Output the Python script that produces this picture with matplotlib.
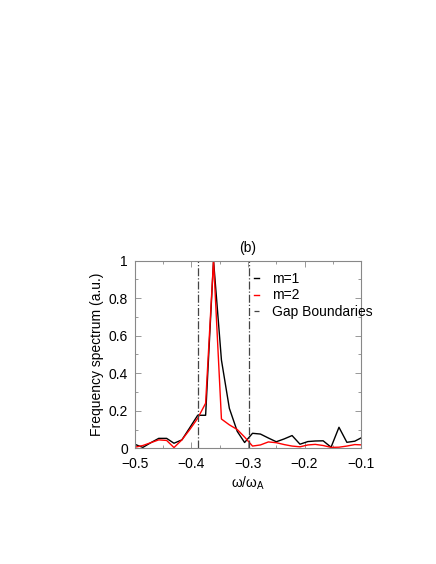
import matplotlib
matplotlib.use('Agg')
import matplotlib.pyplot as plt
from matplotlib.ticker import MultipleLocator, FuncFormatter

plt.rcParams['font.family'] = ['Liberation Sans', 'DejaVu Sans']
plt.rcParams['mathtext.fontset'] = 'custom'
plt.rcParams['mathtext.rm'] = 'Liberation Sans'

# frequency grid (omega / omega_A)
freq = [-0.5, -0.486, -0.472, -0.458, -0.444, -0.431, -0.417, -0.403, -0.389, -0.375,
        -0.361, -0.347, -0.333, -0.319, -0.306, -0.292, -0.278, -0.264, -0.250, -0.236,
        -0.222, -0.208, -0.194, -0.181, -0.167, -0.153, -0.139, -0.125, -0.111, -0.097]

spec_m1 = [0.021, 0.005, 0.030, 0.053, 0.053, 0.027, 0.045, 0.110, 0.176, 0.176,
           1.000, 0.470, 0.213, 0.090, 0.031, 0.080, 0.076, 0.055, 0.035, 0.050,
           0.068, 0.022, 0.036, 0.039, 0.040, 0.006, 0.112, 0.032, 0.038, 0.060]

spec_m2 = [0.006, 0.015, 0.030, 0.045, 0.042, 0.004, 0.045, 0.100, 0.160, 0.240,
           1.000, 0.156, 0.125, 0.100, 0.060, 0.012, 0.018, 0.034, 0.030, 0.020,
           0.012, 0.008, 0.018, 0.021, 0.015, 0.005, 0.006, 0.012, 0.020, 0.018]

gap_lo = -0.389
gap_hi = -0.298

fs = 10

fig = plt.figure(figsize=(4.36, 5.64), dpi=100)
ax = fig.add_axes([0.3096, 0.2051, 0.5184, 0.333])

ax.plot(freq, spec_m1, color='black', lw=1.0, label='m=1')
ax.plot(freq, spec_m2, color='red', lw=1.0, label='m=2')
ax.axvline(gap_lo, color='#444444', lw=0.9, ls='-.', label='Gap Boundaries')
ax.axvline(gap_hi, color='#444444', lw=0.9, ls='-.')

ax.set_xlim(-0.5, -0.1)
ax.set_ylim(0, 1)
ax.xaxis.set_major_locator(MultipleLocator(0.1))
ax.xaxis.set_minor_locator(MultipleLocator(0.05))
ax.yaxis.set_major_locator(MultipleLocator(0.2))
ax.yaxis.set_minor_locator(MultipleLocator(0.1))
fmt = FuncFormatter(lambda v, p: ('%g' % round(v, 3)).replace('-', '\u2212'))
ax.xaxis.set_major_formatter(fmt)
ax.yaxis.set_major_formatter(fmt)

for s in ax.spines.values():
    s.set_color('#888888')
    s.set_linewidth(0.8)
ax.tick_params(which='both', direction='in', top=True, right=True, color='#888888',
               labelsize=fs, width=0.6)
ax.tick_params(which='major', length=4)
ax.tick_params(which='minor', length=2.5)
ax.tick_params(axis='x', which='major', pad=6)
ax.tick_params(axis='y', which='major', pad=5)

ax.set_title('(b)', fontsize=fs, pad=6)
ax.set_xlabel('ω/ω$_\\mathregular{A}$', fontsize=fs, labelpad=3)
ax.set_ylabel('Frequency spectrum (a.u.)', fontsize=fs, labelpad=3)

ax.legend(loc='upper left', bbox_to_anchor=(0.5, 0.97), frameon=False, fontsize=fs,
          handlelength=0.4, handletextpad=0.9, labelspacing=0.2, borderaxespad=0)

fig.savefig('out.png', dpi=100)
